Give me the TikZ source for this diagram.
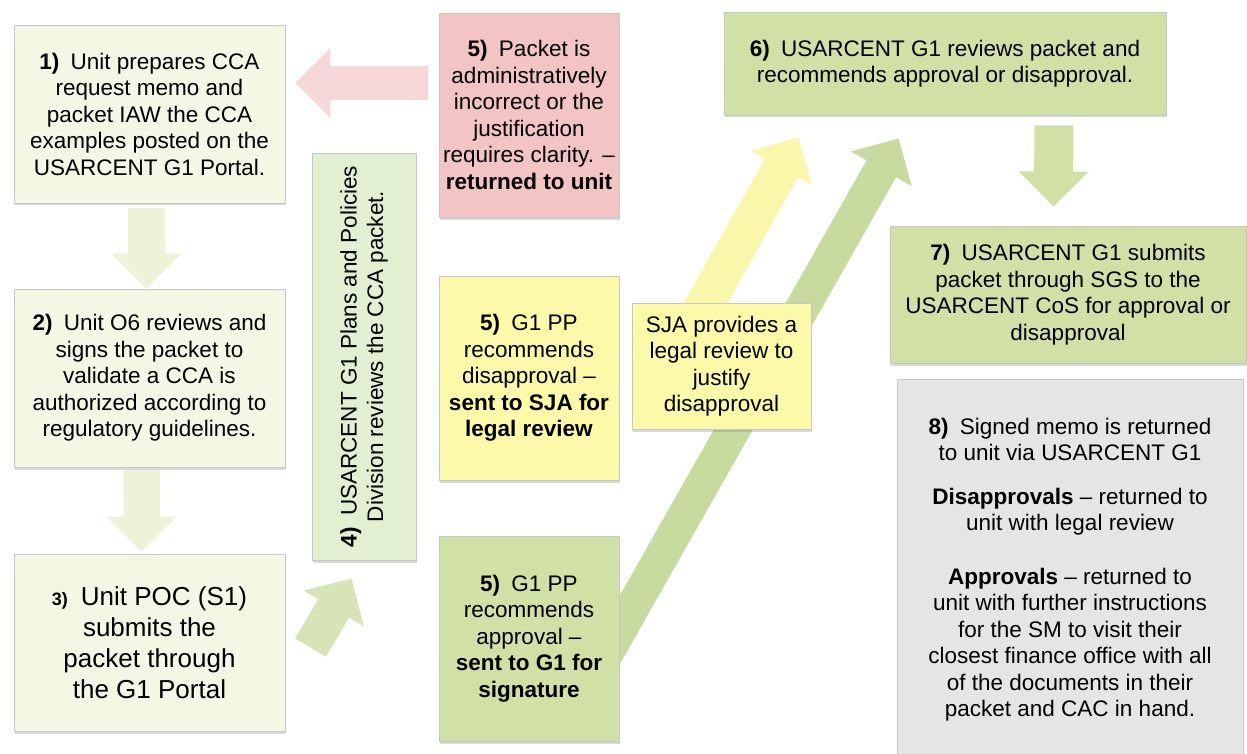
\documentclass[tikz,border=0pt]{standalone}
\usepackage{fontspec}
\setmainfont{Liberation Sans}
\usepackage{tikz}
\usetikzlibrary{positioning,arrows.meta,shapes,shadows,calc}
\definecolor{colpale}{RGB}{243,247,228}
\definecolor{colmid}{RGB}{226,239,208}
\definecolor{colg}{RGB}{209,225,166}
\definecolor{colp}{RGB}{242,196,196}
\definecolor{coly}{RGB}{252,250,168}
\definecolor{colgr}{RGB}{229,229,229}
\definecolor{colpa}{RGB}{247,216,216}
\definecolor{colda}{RGB}{236,243,214}
\definecolor{colga}{RGB}{214,228,183}
\definecolor{colya}{RGB}{249,247,170}
\definecolor{colgd}{RGB}{200,219,158}
\pgfdeclarelayer{back}
\pgfsetlayers{back,main}

\begin{document}
\begin{tikzpicture}[x=1pt, y=-1pt,
    box/.style={draw=black!22, line width=0.8pt, fill=#1, inner sep=0pt, align=center,
      font=\fontsize{22.5}{26.5}\selectfont,
      drop shadow={shadow xshift=1pt, shadow yshift=-2.5pt, opacity=0.3}},
    blk/.style={line width=#1, -{Triangle[width=68pt,length=35pt]}}]
    \useasboundingbox (0,0) rectangle (1247,754);

    % left column
    \node[box=colpale, minimum width=271pt, minimum height=178pt] (b1) at (149.5,114)
      {\textbf{1)}\enspace Unit prepares CCA\\request memo and\\packet IAW the CCA\\examples posted on the\\USARCENT G1 Portal.};
    \node[box=colpale, minimum width=271pt, minimum height=178pt] (b2) at (149.5,378)
      {\textbf{2)}\enspace Unit O6 reviews and\\signs the packet to\\validate a CCA is\\authorized according to\\regulatory guidelines.};
    \node[box=colpale, minimum width=271pt, minimum height=177pt, font=\fontsize{26}{31}\selectfont] (b3) at (149.5,642.5)
      {{\fontsize{18}{20}\selectfont\textbf{3)}}\enspace Unit POC (S1)\\submits the\\packet through\\the G1 Portal};
    \node[box=colmid, rotate=90, minimum width=407pt, minimum height=104pt] (b4) at (364,356.5)
      {\textbf{4)}\enspace USARCENT G1 Plans and Policies\\Division reviews the CCA packet.};

    % step 5
    \node[box=colp, minimum width=180pt, minimum height=204pt] (p5) at (529,115)
      {\textbf{5)}\enspace Packet is\\administratively\\incorrect or the\\justification\\requires clarity. --\\\textbf{returned to unit}};
    \node[box=coly, minimum width=180pt, minimum height=204pt] (y5) at (529,378)
      {\textbf{5)}\enspace G1 PP\\recommends\\disapproval --\\\textbf{sent to SJA for}\\\textbf{legal review}};
    \node[box=colg, minimum width=180pt, minimum height=205pt] (g5) at (529,638.5)
      {\textbf{5)}\enspace G1 PP\\recommends\\approval --\\\textbf{sent to G1 for}\\\textbf{signature}};
    \node[box=coly, minimum width=179pt, minimum height=126pt] (sja) at (721.5,366)
      {SJA provides a\\legal review to\\justify\\disapproval};

    % right column
    \node[box=colg, minimum width=442pt, minimum height=103pt] (b6) at (945,63.5)
      {\textbf{6)}\enspace USARCENT G1 reviews packet and\\recommends approval or disapproval.};
    \node[box=colg, minimum width=356pt, minimum height=137pt] (b7) at (1068,294.5)
      {\textbf{7)}\enspace USARCENT G1 submits\\packet through SGS to the\\USARCENT CoS for approval or\\disapproval};
    \node[box=colgr, minimum width=346pt, minimum height=381pt] (b8) at (1070,569.5)
      {\textbf{8)}\enspace Signed memo is returned\\to unit via USARCENT G1\\[17pt]
       \textbf{Disapprovals} -- returned to\\unit with legal review\\[27pt]
       \textbf{Approvals} -- returned to\\unit with further instructions\\for the SM to visit their\\closest finance office with all\\of the documents in their\\packet and CAC in hand.};

    \begin{pgfonlayer}{back}
      \draw[blk=34pt, draw=colpa] ($(p5.west)+(-11,-32)$) -- ($(b1.east)+(10,-31)$);
      \draw[blk=37pt, draw=colda] ($(b1.south)+(-3,5)$) -- ($(b2.north)+(-3,0)$);
      \draw[blk=36pt, draw=colda] ($(b2.south)+(-8,3)$) -- ($(b3.north)+(-8,-2)$);
      % b4 is turned, so its north west is the lower left corner
      \draw[blk=36pt, draw=colga] ($(b3.north east)+(25,94)$) -- ($(b4.north west)+(40,18)$);
      \draw[blk=38pt, draw=colya] ($(sja.north)+(-24,15)$) -- ($(b6.south west)+(75,22)$);
      \draw[blk=34pt, draw=colgd] ($(g5.east)+(-19,25.5)$) -- ($(b6.south west)+(175,23)$);
      \draw[blk=39pt, draw=colg] ($(b6.south east)+(-112.5,10)$) -- ($(b7.north)+(-14.5,-19)$);
    \end{pgfonlayer}
\end{tikzpicture}
\end{document}
